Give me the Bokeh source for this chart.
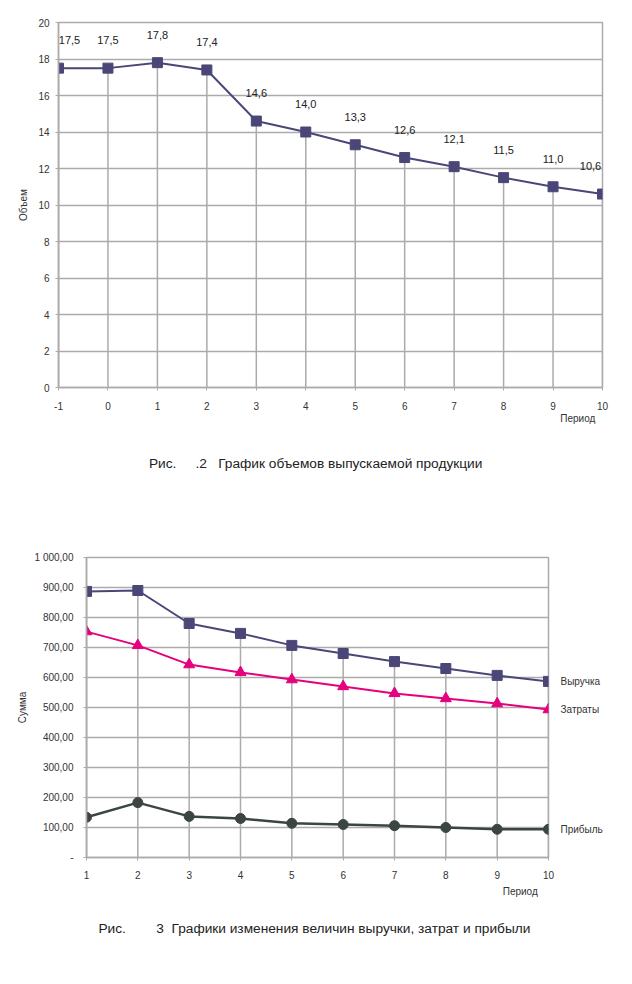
from bokeh.plotting import figure
from bokeh.models import FixedTicker, Range1d, LinearAxis
from bokeh.layouts import column
from bokeh.embed import file_html
from bokeh.resources import INLINE

# ---- data: chart 1 ----
periods1 = [-1, 0, 1, 2, 3, 4, 5, 6, 7, 8, 9, 10]
volume = [17.5, 17.5, 17.8, 17.4, 14.6, 14.0, 13.3, 12.6, 12.1, 11.5, 11.0, 10.6]
volume_labels = ["17,5", "17,5", "17,8", "17,4", "14,6", "14,0", "13,3", "12,6", "12,1", "11,5", "11,0", "10,6"]
y1_ticks = [0, 2, 4, 6, 8, 10, 12, 14, 16, 18, 20]
title1 = "Рис.\u00a0\u00a0\u00a0\u00a0\u00a0.2\u00a0\u00a0\u00a0График объемов выпускаемой продукции"

# ---- data: chart 2 ----
periods2 = [1, 2, 3, 4, 5, 6, 7, 8, 9, 10]
revenue = [887, 890, 780, 747, 707, 680, 653, 630, 607, 587]
costs = [753, 707, 643, 617, 593, 570, 547, 530, 513, 493]
profit = [134, 183, 137, 130, 114, 110, 106, 100, 94, 94]
series_names = ["Выручка", "Затраты", "Прибыль"]
y2_ticks = [0, 100, 200, 300, 400, 500, 600, 700, 800, 900, 1000]
y2_tick_labels = ["-", "100,00", "200,00", "300,00", "400,00", "500,00", "600,00",
                  "700,00", "800,00", "900,00", "1 000,00"]
title2 = "Рис.\u00a0\u00a0\u00a0\u00a0\u00a0\u00a0\u00a0\u00a03\u00a0\u00a0Графики изменения величин выручки, затрат и прибыли"

NAVY = "#4a4778"
PINK = "#e6007e"
DARK = "#3b4542"
GRID = "#ababab"
TXT = "#333333"
FONT = "Liberation Sans"


def style(p):
    p.background_fill_color = "white"
    p.border_fill_color = "white"
    p.outline_line_color = GRID
    p.outline_line_width = 1.5
    for ax in (p.xaxis, p.yaxis):
        ax.axis_line_color = GRID
        ax.axis_line_width = 1.5
        ax.major_tick_line_color = GRID
        ax.major_tick_out = 3
        ax.major_tick_in = 0
        ax.minor_tick_line_color = None
        ax.major_label_text_font = FONT
        ax.major_label_text_font_size = "10px"
        ax.major_label_text_color = TXT
        ax.axis_label_text_font = FONT
        ax.axis_label_text_font_size = "10px"
        ax.axis_label_text_font_style = "normal"
        ax.axis_label_text_color = TXT
    p.xgrid.grid_line_color = None
    p.ygrid.grid_line_color = GRID
    p.ygrid.grid_line_width = 1.5


def text_axis(p, side, ticks, labels, standoff, size, color=TXT):
    ax = LinearAxis(ticker=FixedTicker(ticks=ticks),
                    major_label_overrides={t: l for t, l in zip(ticks, labels)})
    ax.axis_line_color = None
    ax.major_tick_line_color = None
    ax.minor_tick_line_color = None
    ax.major_tick_out = 0
    ax.major_tick_in = 0
    ax.major_label_standoff = standoff
    ax.major_label_text_font = FONT
    ax.major_label_text_font_size = size
    ax.major_label_text_color = color
    p.add_layout(ax, side)
    return ax


# ---------------- chart 1 ----------------
p1 = figure(width=616, height=480, output_backend="svg", toolbar_location=None,
            x_range=Range1d(-1, 10), y_range=Range1d(0, 20), frame_align=False,
            min_border_left=58, min_border_right=14, min_border_top=22, min_border_bottom=93)
style(p1)
p1.xaxis.ticker = FixedTicker(ticks=periods1)
p1.xaxis.major_label_overrides = {-1: "-1"}
p1.yaxis.ticker = FixedTicker(ticks=y1_ticks)
p1.xaxis.major_label_standoff = 11
p1.yaxis.major_label_standoff = 6
p1.yaxis.axis_label = "Объем"
p1.yaxis.axis_label_standoff = 6

# drop lines from each point to the axis
p1.segment(x0=periods1, y0=[0] * len(periods1), x1=periods1, y1=volume,
           line_color=GRID, line_width=1.5)
p1.line(periods1, volume, line_color=NAVY, line_width=2)
p1.scatter(periods1, volume, marker="square", size=10, fill_color=NAVY, line_color=NAVY)
label_dx = [11] + [0] * (len(periods1) - 2) + [-12]
p1.text(periods1, volume, text=volume_labels, text_align="center", text_baseline="middle",
        x_offset=label_dx, y_offset=-28, text_font_size="11px", text_color="#222222",
        text_font={"value": FONT})

text_axis(p1, "below", [9.5], ["Период"], 0, "10px")
text_axis(p1, "below", [4.2], [title1], 29, "13.7px", "#222222")

# ---------------- chart 2 ----------------
p2 = figure(width=616, height=488, output_backend="svg", toolbar_location=None,
            x_range=Range1d(1, 10), y_range=Range1d(0, 1000), frame_align=False,
            min_border_left=86, min_border_right=68, min_border_top=77, min_border_bottom=111)
style(p2)
p2.xaxis.ticker = FixedTicker(ticks=periods2)
p2.yaxis.ticker = FixedTicker(ticks=y2_ticks)
p2.yaxis.major_label_overrides = {t: l for t, l in zip(y2_ticks, y2_tick_labels)}
p2.xaxis.major_label_standoff = 10
p2.yaxis.major_label_standoff = 10
p2.yaxis.axis_label = "Сумма"
p2.yaxis.axis_label_standoff = 4

p2.segment(x0=periods2, y0=[0] * len(periods2), x1=periods2, y1=revenue,
           line_color=GRID, line_width=1.5)
p2.line(periods2, revenue, line_color=NAVY, line_width=2)
p2.scatter(periods2, revenue, marker="square", size=10, fill_color=NAVY, line_color=NAVY)
p2.line(periods2, costs, line_color=PINK, line_width=2)
p2.scatter(periods2, costs, marker="triangle", size=11, fill_color=PINK, line_color=PINK)
p2.line(periods2, profit, line_color=DARK, line_width=2.5)
p2.scatter(periods2, profit, marker="circle", size=10, fill_color=DARK, line_color=DARK)

text_axis(p2, "right", [revenue[-1], costs[-1], profit[-1]], series_names, 12, "10px")
text_axis(p2, "below", [9.45], ["Период"], 4, "10px")
text_axis(p2, "below", [5.44], [title2], 21, "13.7px", "#222222")

layout = column(p1, p2)
open("out.html", "w").write(file_html(layout, INLINE))
